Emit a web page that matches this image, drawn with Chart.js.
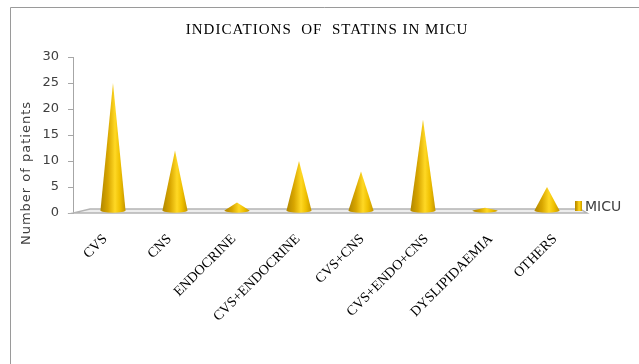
<!DOCTYPE html>
<html>
<head>
<meta charset="utf-8">
<script src="https://cdn.jsdelivr.net/npm/chart.js@4.4.1/dist/chart.umd.min.js"></script>
<style>
  html, body { margin: 0; padding: 0; background: #ffffff; }
  #wrap { position: relative; width: 639px; height: 364px; }
</style>
</head>
<body>
<div id="wrap"><canvas id="chart" width="639" height="364"></canvas></div>
<script>
// Indications of statins, MICU patients
const categories = ['CVS', 'CNS', 'ENDOCRINE', 'CVS+ENDOCRINE', 'CVS+CNS', 'CVS+ENDO+CNS', 'DYSLIPIDAEMIA', 'OTHERS'];
const micuPatients = [25, 12, 2, 10, 8, 18, 1, 5];
const yTickValues = [0, 5, 10, 15, 20, 25, 30];
const seriesName = 'MICU';
const chartTitle = 'INDICATIONS  OF  STATINS IN MICU';
const yAxisTitle = 'Number of patients';

const AXIS_GREY = '#a6a6a6';
const TEXT_GREY = '#404040';

// gold shading across a cone, dark on the left edge, highlight right of centre
function coneGradient(ctx, left, right) {
  const g = ctx.createLinearGradient(left, 0, right, 0);
  g.addColorStop(0.00, '#b08600');
  g.addColorStop(0.30, '#d8a600');
  g.addColorStop(0.58, '#ffd824');
  g.addColorStop(0.78, '#efc000');
  g.addColorStop(1.00, '#c49500');
  return g;
}

// simple depth projection: cones stand mid-way back on the 3D floor
const DEPTH_SCALE = 0.965;

const cone3d = {
  id: 'cone3d',
  beforeDraw(chart) {
    const { ctx } = chart;
    ctx.save();
    // outer frame (top and left edges)
    ctx.strokeStyle = '#9a9a9a';
    ctx.lineWidth = 1;
    ctx.beginPath();
    ctx.moveTo(10.5, chart.height);
    ctx.lineTo(10.5, 7.5);
    ctx.lineTo(chart.width, 7.5);
    ctx.stroke();
    ctx.restore();
  },
  beforeDatasetsDraw(chart) {
    const { ctx, chartArea: a, scales } = chart;
    const y0 = scales.y.getPixelForValue(0);
    ctx.save();
    // floor slab
    ctx.beginPath();
    ctx.moveTo(a.left, y0);
    ctx.lineTo(a.right, y0);
    ctx.lineTo(a.right - 7, y0 - 4);
    ctx.lineTo(a.left + 17, y0 - 4);
    ctx.closePath();
    ctx.fillStyle = '#ededed';
    ctx.fill();
    ctx.strokeStyle = '#b4b4b4';
    ctx.lineWidth = 1.4;
    ctx.stroke();
    ctx.restore();
  },
  afterDatasetsDraw(chart) {
    const { ctx, chartArea: a } = chart;
    const vp = (a.left + a.right) / 2;
    const meta = chart.getDatasetMeta(0);
    ctx.save();
    meta.data.forEach((bar) => {
      const p = bar.getProps(['x', 'y', 'base', 'width'], true);
      const cx = vp + (p.x - vp) * DEPTH_SCALE;
      const half = p.width / 2;
      const by = p.base - 2;
      ctx.beginPath();
      ctx.moveTo(cx, p.y);
      ctx.lineTo(cx + half, by);
      ctx.ellipse(cx, by, half, 2.2, 0, 0, Math.PI, false);
      ctx.closePath();
      ctx.fillStyle = coneGradient(ctx, cx - half, cx + half);
      ctx.fill();
    });
    ctx.restore();
  },
  afterDraw(chart) {
    const { ctx, chartArea: a, scales } = chart;
    ctx.save();
    // title
    ctx.fillStyle = '#000000';
    ctx.font = '15px "Liberation Serif"';
    ctx.letterSpacing = '1px';
    ctx.textAlign = 'center';
    ctx.textBaseline = 'middle';
    ctx.fillText(chartTitle, 327, 30);

    // y axis title
    ctx.save();
    ctx.translate(27, 173);
    ctx.rotate(-Math.PI / 2);
    ctx.font = '13px "DejaVu Sans"';
    ctx.letterSpacing = '1px';
    ctx.fillStyle = TEXT_GREY;
    ctx.fillText(yAxisTitle, 0, 0);
    ctx.restore();

    // legend
    ctx.letterSpacing = '0px';
    const ly = scales.y.getPixelForValue(0) - 7;
    const lx = a.right - 12;
    ctx.fillStyle = coneGradient(ctx, lx, lx + 7);
    ctx.fillRect(lx, ly - 5, 7, 10);
    ctx.fillStyle = TEXT_GREY;
    ctx.font = '14px "DejaVu Sans"';
    ctx.textAlign = 'left';
    ctx.fillText(seriesName, lx + 10, ly + 1);
    ctx.restore();
  }
};

new Chart(document.getElementById('chart'), {
  type: 'bar',
  data: {
    labels: categories,
    datasets: [{
      label: seriesName,
      data: micuPatients,
      backgroundColor: 'rgba(0,0,0,0)',
      borderWidth: 0,
      categoryPercentage: 1,
      barPercentage: 0.39
    }]
  },
  options: {
    responsive: false,
    animation: false,
    devicePixelRatio: 1,
    layout: { padding: { top: 57, right: 52, bottom: 0, left: 0 } },
    plugins: {
      legend: { display: false },
      title: { display: false },
      tooltip: { enabled: false }
    },
    scales: {
      x: {
        offset: true,
        grid: { display: false, drawTicks: false },
        border: { display: false },
        ticks: {
          autoSkip: false,
          maxRotation: 45,
          minRotation: 45,
          padding: 18,
          color: '#000000',
          font: { family: '"Liberation Serif"', size: 14 }
        },
        afterFit(scale) { scale.height = 151; }
      },
      y: {
        min: 0,
        max: 30,
        afterBuildTicks(scale) { scale.ticks = yTickValues.map(v => ({ value: v })); },
        grid: { drawOnChartArea: false, drawTicks: true, tickLength: 5, color: AXIS_GREY },
        border: { display: true, color: AXIS_GREY },
        ticks: {
          padding: 9,
          color: TEXT_GREY,
          font: { family: '"DejaVu Sans"', size: 13 }
        },
        afterFit(scale) { scale.width = 73; }
      }
    }
  },
  plugins: [cone3d]
});
</script>
</body>
</html>
